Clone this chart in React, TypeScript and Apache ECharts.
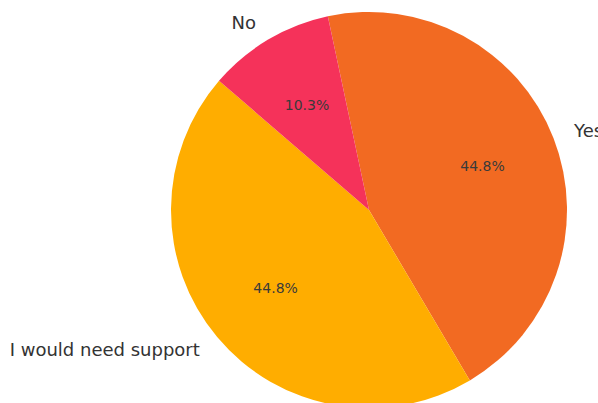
import React, { useEffect, useRef } from "react";
import * as echarts from "echarts";

const categories = ["Yes", "I would need support", "No"];
const counts = [13, 13, 3];
const colors = ["#F26A22", "#FFAD00", "#F5325A"];

export default function App() {
  const ref = useRef<HTMLDivElement>(null);
  useEffect(() => {
    if (!ref.current) return;
    const chart = echarts.init(ref.current, undefined, { renderer: "svg" });
    const total = counts.reduce((a, b) => a + b, 0);
    const data = categories.map((name, i) => ({
      name,
      value: counts[i],
      itemStyle: { color: colors[i] },
    }));
    const R = 198;
    chart.setOption({
      animation: false,
      backgroundColor: "#ffffff",
      series: [
        {
          type: "pie",
          center: [369, 210],
          radius: [0, R],
          startAngle: 102,
          clockwise: true,
          avoidLabelOverlap: false,
          silent: true,
          data,
          itemStyle: { borderWidth: 0 },
          label: {
            show: true,
            position: "outside",
            formatter: "{b}",
            fontFamily: "DejaVu Sans",
            fontSize: 18,
            color: "#333333",
            distanceToLabelLine: 2,
          },
          labelLine: { show: false, length: 20, length2: 0 },
        },
        {
          type: "pie",
          center: [369, 210],
          radius: [0, R * 1.2],
          startAngle: 102,
          clockwise: true,
          avoidLabelOverlap: false,
          silent: true,
          data: data.map((d) => ({ ...d, itemStyle: { color: "rgba(0,0,0,0)" } })),
          itemStyle: { borderWidth: 0 },
          label: {
            show: true,
            position: "inside",
            formatter: (p: any) => ((p.value / total) * 100).toFixed(1) + "%",
            fontFamily: "DejaVu Sans",
            fontSize: 14,
            color: "#3a3a3a",
          },
          labelLine: { show: false },
        },
      ],
    });
    return () => chart.dispose();
  }, []);
  return (
    <div
      ref={ref}
      style={{ position: "fixed", left: 0, top: 0, width: 598, height: 403 }}
    />
  );
}
